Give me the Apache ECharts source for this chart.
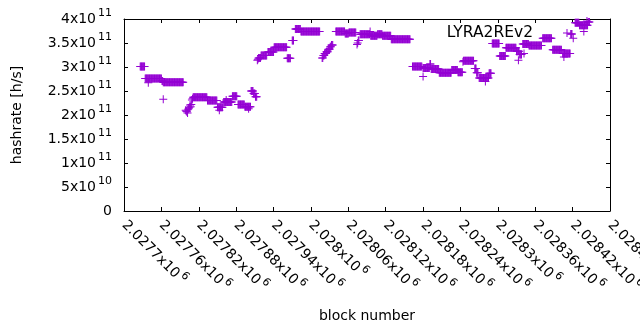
<!DOCTYPE html>
<html>
<head>
<meta charset="utf-8">
<script src="https://cdn.jsdelivr.net/npm/echarts@6/dist/echarts.min.js"></script>
<style>
  html, body { margin: 0; padding: 0; background: #fff; }
  #chart { width: 640px; height: 330px; }
</style>
</head>
<body>
<div id="chart"></div>
<script>
// block numbers are counted from blockBase, hashrate is in 1e9 h/s
let blockBase = 2027700;
let seriesName = 'LYRA2REv2';

// runs of blocks with the same hashrate estimate (first block, last block, rate)
let runFirst = [26, 34, 39, 61, 63, 63, 99, 100, 101, 102, 103, 104, 105, 106, 107, 108, 109, 110,
  111, 134, 150, 153, 160, 164, 174, 183, 194, 200, 204, 208, 211, 214, 215, 216, 220, 231, 241,
  262, 270, 275, 284, 318, 320, 322, 325, 328, 331, 333, 340, 355, 361, 374, 375, 376, 379, 395,
  396, 407, 415, 429, 463, 480, 480, 491, 493, 506, 526, 536, 544, 545, 563, 566, 570, 580, 586,
  591, 603, 613, 630, 633, 635, 640, 650, 642, 672, 688, 704, 706, 717, 721, 724, 731, 738, 743, 745];
let runLast = [33, 60, 39, 62, 95, 63, 99, 100, 101, 102, 103, 104, 105, 106, 107, 108, 109, 110,
  133, 149, 158, 153, 173, 164, 181, 193, 203, 200, 207, 210, 213, 214, 215, 219, 229, 240, 261,
  267, 272, 283, 314, 319, 321, 324, 327, 330, 332, 335, 354, 360, 372, 374, 375, 377, 394, 395,
  406, 414, 428, 459, 478, 480, 490, 492, 505, 525, 535, 543, 544, 561, 565, 568, 585, 580, 589,
  602, 612, 629, 634, 633, 638, 649, 670, 642, 686, 702, 716, 706, 719, 721, 730, 744, 738, 743, 747];
let runRate = [301, 276, 267, 271, 268, 233, 210, 208, 207, 204, 212, 214, 216, 221, 217, 222, 231, 234,
  237, 230, 216, 210, 227, 231, 239, 222, 217, 213, 250, 245, 238, 314, 316, 319, 324, 331, 341,
  318, 355, 379, 374, 319, 324, 328, 332, 337, 342, 346, 374, 370, 372, 347, 350, 355, 368, 374,
  365, 368, 365, 358, 301, 280, 298, 306, 296, 288, 294, 289, 311, 313, 297, 288, 277, 270, 287,
  349, 323, 340, 333, 314, 326, 348, 345, 328, 360, 336, 328, 321, 369, 360, 392, 387, 374, 396, 394];

let xMin = 2027700, xMax = 2028480, xStep = 60;
let yMin = 0, yMax = 4e11, yStep = 5e10;

let font = 'DejaVu Sans';
let plus = 'path://M0,3.5H8V4.5H0Z M3.5,0H4.5V8H3.5Z';

let points = [];
for (let i in runFirst) {
  for (let b = runFirst[i]; b <= runLast[i]; b++) {
    points.push([blockBase + b, runRate[i] * 1e9]);
  }
}

// gnuplot style "4x10^11" labels
function sciLabel(value) {
  if (value === 0) return '{m|0}';
  let exp = Math.floor(Math.log10(value) + 1e-9);
  let mant = Number((value / Math.pow(10, exp)).toPrecision(8));
  return '{m|' + mant + 'x10}{s|' + exp + '}';
}

let rich = {
  m: { fontSize: 14, fontFamily: font, color: '#000', verticalAlign: 'middle' },
  s: { fontSize: 11, fontFamily: font, color: '#000', verticalAlign: 'middle', padding: [0, 0, 11, 2] }
};

function xAxisOf(pos, main) {
  return {
    type: 'value', position: pos, min: xMin, max: xMax, interval: xStep,
    axisLine: { onZero: false, lineStyle: { color: '#000', width: 1 } },
    axisTick: { inside: true, length: 4, lineStyle: { color: '#000' } },
    axisLabel: main ? { show: true, rotate: -45, margin: 12, formatter: sciLabel, rich: rich,
      showMinLabel: true, showMaxLabel: true } : { show: false },
    splitLine: { show: false },
    name: main ? 'block number' : '',
    nameLocation: 'middle', nameGap: 98,
    nameTextStyle: { fontSize: 14, fontFamily: font, color: '#000' }
  };
}

function yAxisOf(pos, main) {
  return {
    type: 'value', position: pos, min: yMin, max: yMax, interval: yStep,
    axisLine: { show: true, onZero: false, lineStyle: { color: '#000', width: 1 } },
    axisTick: { show: true, inside: true, length: 4, lineStyle: { color: '#000' } },
    axisLabel: main ? { show: true, margin: 12, formatter: sciLabel, rich: rich } : { show: false },
    splitLine: { show: false },
    name: main ? 'hashrate [h/s]' : '',
    nameLocation: 'middle', nameGap: 100, nameRotate: 90,
    nameTextStyle: { fontSize: 14, fontFamily: font, color: '#000' }
  };
}

let chart = echarts.init(document.getElementById('chart'), null, { renderer: 'canvas' });
let option = {
  animation: false,
  backgroundColor: '#fff',
  grid: { left: 124, right: 30, top: 19, bottom: 119, containLabel: false, outerBoundsMode: 'none' },
  legend: {
    data: [seriesName],
    right: 69, top: 25, padding: 0,
    align: 'right',
    itemWidth: 8, itemHeight: 8,
    icon: plus,
    selectedMode: false,
    textStyle: { fontSize: 15.5, fontFamily: font, color: '#000', padding: [0, 25, 0, 0] }
  },
  xAxis: [xAxisOf('bottom', true), xAxisOf('top', false)],
  yAxis: [yAxisOf('left', true), yAxisOf('right', false)],
  series: [
    {
      name: seriesName,
      type: 'scatter',
      symbol: plus,
      symbolSize: 8,
      itemStyle: { color: '#9400d3', opacity: 1 },
      data: points
    }
  ]
};
chart.setOption(option);
</script>
</body>
</html>
